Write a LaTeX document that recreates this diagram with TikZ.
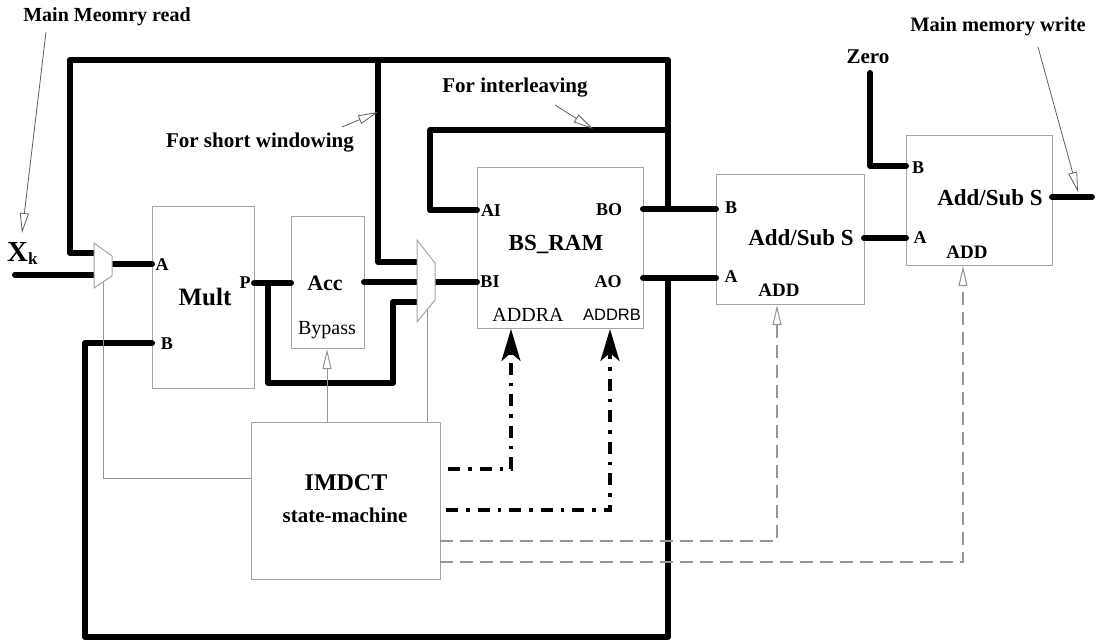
\documentclass[tikz,border=0pt]{standalone}
\usepackage{fontspec}
\setmainfont{Liberation Serif}
\newfontfamily\sansf{Liberation Sans}
\usetikzlibrary{arrows.meta}
\definecolor{boxgray}{RGB}{165,165,165}
\definecolor{ctrlgray}{RGB}{150,150,150}
\definecolor{annotgray}{RGB}{95,95,95}
\begin{document}
\begin{tikzpicture}[x=1pt,y=-1pt,
  box/.style={draw=boxgray, line width=1pt, inner sep=0pt},
  muxst/.style={draw=boxgray, line width=1pt, fill=white},
  wire/.style={line width=6pt, line join=round, line cap=round},
  ctrl/.style={draw=ctrlgray, line width=1pt},
  gdash/.style={draw=ctrlgray, line width=1.1pt, dash pattern=on 13pt off 7pt},
  dashdot/.style={line width=3.5pt, dash pattern=on 12pt off 8pt on 3.5pt off 8pt},
  bigtip/.style={-{Stealth[length=32pt,width=19pt,inset=8pt]}},
  opentip/.style={-{Triangle[open,length=20pt,width=9pt]}},
  annot/.style={draw=annotgray, line width=0.8pt},
  lbl/.style={inner sep=0pt, font=\bfseries\fontsize{#1}{#1}\selectfont},
  rlbl/.style={inner sep=0pt, font=\fontsize{#1}{#1}\selectfont},
  slbl/.style={inner sep=0pt, font=\sansf\fontsize{#1}{#1}\selectfont}
]
\useasboundingbox (0,0) rectangle (1096,642);

% ---------- blocks ----------
\node[box, minimum width=102pt, minimum height=182pt] (mult) at (203,297) {};
\node[box, minimum width=73pt, minimum height=132pt] (acc) at (327.5,282) {};
\node[box, minimum width=166pt, minimum height=161pt] (ram) at (560,247.5) {};
\node[box, minimum width=148pt, minimum height=130pt] (add1) at (790,239) {};
\node[box, minimum width=146pt, minimum height=130pt] (add2) at (979,200) {};
\node[box, minimum width=189pt, minimum height=157pt] (fsm) at (345.5,500.5) {};

% ---------- ports ----------
\coordinate (multA) at (152,264);
\coordinate (multB) at (152,343);
\coordinate (multP) at (254,283);
\coordinate (accIn) at (291,283);
\coordinate (accOut) at (364,282);
\coordinate (accB) at (327,349);
\coordinate (ramAI) at (477,210);
\coordinate (ramBI) at (477,282);
\coordinate (ramBO) at (643,209);
\coordinate (ramAO) at (643,278);
\coordinate (ramADDRA) at (511,329);
\coordinate (ramADDRB) at (610,329);
\coordinate (add1B) at (716,209);
\coordinate (add1A) at (716,278);
\coordinate (add1S) at (864,238);
\coordinate (add1ADD) at (777,305);
\coordinate (add2B) at (906,166);
\coordinate (add2A) at (906,238);
\coordinate (add2S) at (1052,197);
\coordinate (add2ADD) at (963,266);
\coordinate (outEnd) at (1092,197);
\coordinate (zeroTop) at (870,73);
\coordinate (xkStart) at (15,275);
\coordinate (mux1i1) at (94,253);
\coordinate (mux1i2) at (94,275);
\coordinate (mux1o) at (112,264);
\coordinate (mux1c) at (103,282);
\coordinate (mux2i1) at (417,262);
\coordinate (mux2i2) at (417,282);
\coordinate (mux2i3) at (417,302);
\coordinate (mux2o) at (435,282);
\coordinate (mux2c) at (427,310);
\coordinate (fsmL) at (251,478);
\coordinate (fsmT1) at (327,422);
\coordinate (fsmT2) at (427,422);
\coordinate (fsmR1) at (448,469);
\coordinate (fsmR2) at (446,510);
\coordinate (fsmR3) at (440,541);
\coordinate (fsmR4) at (440,562);

% ---------- thick data wires ----------
\draw[wire] (mux1i1) -| (70,60) -| (668,209) -- (ramBO);
\draw[wire] (668,209) -- (add1B);
\draw[wire] (378,60) |- (mux2i1);
\draw[wire] (668,130) -| (430,210) -- (ramAI);
\draw[wire] (xkStart) -- (mux1i2);
\draw[wire] (mux1o) -- (multA);
\draw[wire] (multB) -| (85,637) -| (668,278);
\draw[wire] (ramAO) -- (add1A);
\draw[wire] (multP) -- (accIn);
\draw[wire] (268,283) |- (393,383) |- (mux2i3);
\draw[wire] (accOut) -- (mux2i2);
\draw[wire] (mux2o) -- (ramBI);
\draw[wire] (add1S) -- (add2A);
\draw[wire] (zeroTop) |- (add2B);
\draw[wire] (add2S) -- (outEnd);

% ---------- multiplexers ----------
\draw[muxst] (94,243) -- (112,256) -- (112,276) -- (94,288) -- cycle;
\draw[muxst] (417,240) -- (435,263) -- (435,300) -- (417,322) -- cycle;

% ---------- control lines ----------
\draw[ctrl] (mux1c) |- (fsmL);
\draw[ctrl, opentip] (fsmT1) -- (accB);
\draw[ctrl] (fsmT2) -- (mux2c);
\draw[dashdot, bigtip] (fsmR1) -| (ramADDRA);
\draw[dashdot, bigtip] (fsmR2) -| (ramADDRB);
\draw[gdash, opentip] (fsmR3) -| (add1ADD);
\draw[gdash, opentip] (fsmR4) -| (add2ADD);

% ---------- annotations ----------
\node[lbl=20] (tMMR) at (107,17) {Main Meomry read};
\coordinate (mmrS) at (46,32);
\coordinate (mmrT) at (22,233);
\draw[annot, opentip] (mmrS) -- (mmrT);

\node[lbl=21] (tSW) at (260,143) {For short windowing};
\coordinate (swS) at (342,127);
\coordinate (swT) at (378,112);
\draw[annot, opentip] (swS) -- (swT);

\node[lbl=21] (tIL) at (515,88) {For interleaving};
\coordinate (ilS) at (555,105);
\coordinate (ilT) at (593,129);
\draw[annot, opentip] (ilS) -- (ilT);

\node[lbl=20.5] (tMMW) at (998,27) {Main memory write};
\coordinate (mwS) at (1038,47);
\coordinate (mwT) at (1078,192);
\draw[annot, opentip] (mwS) -- (mwT);

\node[lbl=21] (tZero) at (868,57) {Zero};
\node[inner sep=0pt, anchor=base west] (tXk) at (7,261) {\bfseries\fontsize{29}{29}\selectfont X\raisebox{-3pt}{\fontsize{17}{17}\selectfont k}};

% ---------- block texts ----------
\node[lbl=25] (tMult) at (205,297) {Mult};
\node[lbl=18] (tMA) at (162,265) {A};
\node[lbl=18] (tMB) at (167,344) {B};
\node[lbl=18] (tMP) at (245,283) {P};

\node[lbl=22] (tAcc) at (325,283) {Acc};
\node[rlbl=20] (tByp) at (327,330) {Bypass};

\node[lbl=23] (tRam) at (556,244) {BS\_RAM};
\node[lbl=18] (tAI) at (491,211) {AI};
\node[lbl=18] (tBO) at (609,210) {BO};
\node[lbl=18] (tBI) at (490,282) {BI};
\node[lbl=18] (tAO) at (608,282) {AO};
\node[rlbl=20] (tADDRA) at (528,315) {ADDRA};
\node[slbl=16.5] (tADDRB) at (612,315) {ADDRB};

\node[lbl=23] (tAS1) at (801,238) {Add/Sub S};
\node[lbl=18] (tA1B) at (731,208) {B};
\node[lbl=18] (tA1A) at (731,277) {A};
\node[lbl=19] (tA1ADD) at (779,290) {ADD};

\node[lbl=23] (tAS2) at (990,198) {Add/Sub S};
\node[lbl=18] (tA2B) at (918,168) {B};
\node[lbl=18] (tA2A) at (920,238) {A};
\node[lbl=19] (tA2ADD) at (967,252) {ADD};

\node[lbl=24] (tIMDCT) at (346,483) {IMDCT};
\node[lbl=21] (tSM) at (345,515) {state-machine};
\end{tikzpicture}
\end{document}
